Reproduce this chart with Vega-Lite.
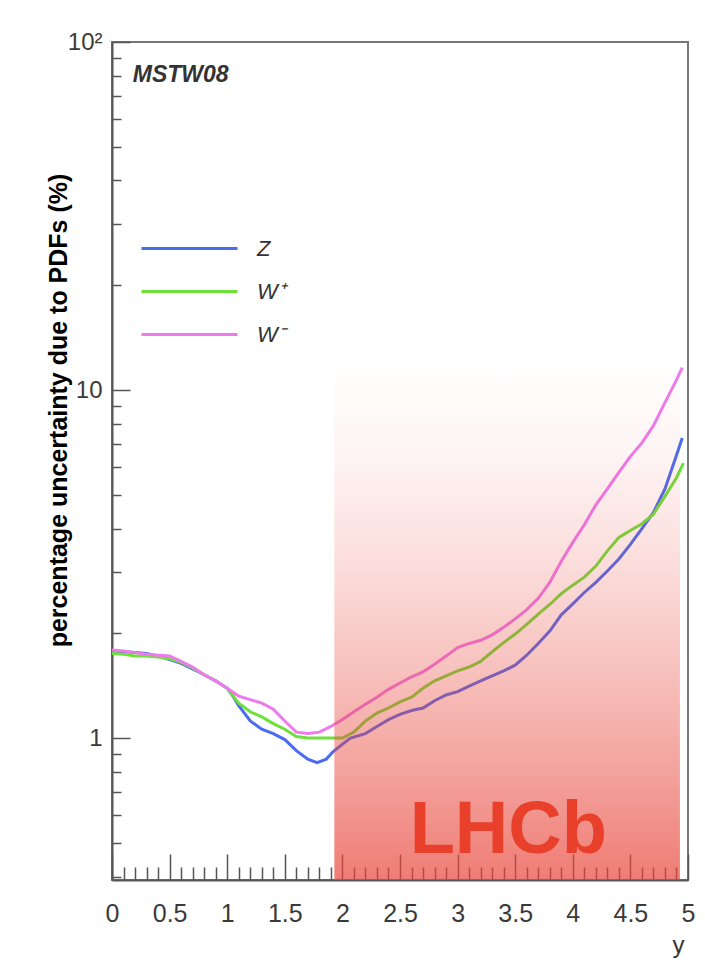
{
  "$schema": "https://vega.github.io/schema/vega-lite/v6.json",
  "width": 576,
  "height": 838,
  "autosize": "none",
  "padding": {"left": 112, "top": 42, "right": 17, "bottom": 93},
  "background": "white",
  "config": {
    "font": "Liberation Sans",
    "view": {"stroke": "#777", "strokeWidth": 2},
    "axis": {"grid": false, "labelFont": "Liberation Sans", "titleFont": "Liberation Sans", "labelColor": "#3a3a3a", "tickColor": "#555", "domainColor": "#555", "domainWidth": 2, "tickWidth": 1.5}
  },
  "datasets": {
    "curves": [
      {"series": "Z", "rap": 0.0, "unc": 1.78}, {"series": "Z", "rap": 0.1, "unc": 1.77}, {"series": "Z", "rap": 0.2, "unc": 1.76}, {"series": "Z", "rap": 0.3, "unc": 1.75}, {"series": "Z", "rap": 0.4, "unc": 1.72}, {"series": "Z", "rap": 0.5, "unc": 1.68}, {"series": "Z", "rap": 0.6, "unc": 1.64}, {"series": "Z", "rap": 0.7, "unc": 1.58}, {"series": "Z", "rap": 0.8, "unc": 1.52}, {"series": "Z", "rap": 0.9, "unc": 1.46}, {"series": "Z", "rap": 1.0, "unc": 1.39}, {"series": "Z", "rap": 1.05, "unc": 1.32}, {"series": "Z", "rap": 1.1, "unc": 1.24}, {"series": "Z", "rap": 1.2, "unc": 1.12}, {"series": "Z", "rap": 1.3, "unc": 1.06}, {"series": "Z", "rap": 1.4, "unc": 1.03}, {"series": "Z", "rap": 1.5, "unc": 0.99}, {"series": "Z", "rap": 1.6, "unc": 0.92}, {"series": "Z", "rap": 1.7, "unc": 0.87}, {"series": "Z", "rap": 1.78, "unc": 0.85}, {"series": "Z", "rap": 1.86, "unc": 0.87}, {"series": "Z", "rap": 1.92, "unc": 0.915}, {"series": "Z", "rap": 2.0, "unc": 0.96}, {"series": "Z", "rap": 2.07, "unc": 1.0}, {"series": "Z", "rap": 2.2, "unc": 1.03}, {"series": "Z", "rap": 2.3, "unc": 1.08}, {"series": "Z", "rap": 2.4, "unc": 1.13}, {"series": "Z", "rap": 2.5, "unc": 1.17}, {"series": "Z", "rap": 2.6, "unc": 1.2}, {"series": "Z", "rap": 2.7, "unc": 1.22}, {"series": "Z", "rap": 2.8, "unc": 1.28}, {"series": "Z", "rap": 2.9, "unc": 1.33}, {"series": "Z", "rap": 3.0, "unc": 1.36}, {"series": "Z", "rap": 3.1, "unc": 1.41}, {"series": "Z", "rap": 3.2, "unc": 1.46}, {"series": "Z", "rap": 3.3, "unc": 1.51}, {"series": "Z", "rap": 3.4, "unc": 1.56}, {"series": "Z", "rap": 3.5, "unc": 1.62}, {"series": "Z", "rap": 3.6, "unc": 1.73}, {"series": "Z", "rap": 3.7, "unc": 1.87}, {"series": "Z", "rap": 3.8, "unc": 2.03}, {"series": "Z", "rap": 3.9, "unc": 2.26}, {"series": "Z", "rap": 4.0, "unc": 2.43}, {"series": "Z", "rap": 4.1, "unc": 2.62}, {"series": "Z", "rap": 4.2, "unc": 2.8}, {"series": "Z", "rap": 4.3, "unc": 3.02}, {"series": "Z", "rap": 4.4, "unc": 3.27}, {"series": "Z", "rap": 4.5, "unc": 3.6}, {"series": "Z", "rap": 4.6, "unc": 4.0}, {"series": "Z", "rap": 4.7, "unc": 4.45}, {"series": "Z", "rap": 4.8, "unc": 5.2}, {"series": "Z", "rap": 4.9, "unc": 6.5}, {"series": "Z", "rap": 4.95, "unc": 7.28},
      {"series": "W⁺", "rap": 0.0, "unc": 1.75}, {"series": "W⁺", "rap": 0.1, "unc": 1.74}, {"series": "W⁺", "rap": 0.2, "unc": 1.72}, {"series": "W⁺", "rap": 0.3, "unc": 1.72}, {"series": "W⁺", "rap": 0.4, "unc": 1.71}, {"series": "W⁺", "rap": 0.5, "unc": 1.69}, {"series": "W⁺", "rap": 0.6, "unc": 1.65}, {"series": "W⁺", "rap": 0.7, "unc": 1.59}, {"series": "W⁺", "rap": 0.8, "unc": 1.52}, {"series": "W⁺", "rap": 0.9, "unc": 1.46}, {"series": "W⁺", "rap": 1.0, "unc": 1.39}, {"series": "W⁺", "rap": 1.1, "unc": 1.26}, {"series": "W⁺", "rap": 1.2, "unc": 1.19}, {"series": "W⁺", "rap": 1.3, "unc": 1.15}, {"series": "W⁺", "rap": 1.4, "unc": 1.1}, {"series": "W⁺", "rap": 1.5, "unc": 1.06}, {"series": "W⁺", "rap": 1.6, "unc": 1.01}, {"series": "W⁺", "rap": 1.7, "unc": 1.0}, {"series": "W⁺", "rap": 1.8, "unc": 1.0}, {"series": "W⁺", "rap": 1.9, "unc": 1.0}, {"series": "W⁺", "rap": 2.0, "unc": 1.0}, {"series": "W⁺", "rap": 2.1, "unc": 1.04}, {"series": "W⁺", "rap": 2.2, "unc": 1.12}, {"series": "W⁺", "rap": 2.3, "unc": 1.18}, {"series": "W⁺", "rap": 2.4, "unc": 1.22}, {"series": "W⁺", "rap": 2.5, "unc": 1.27}, {"series": "W⁺", "rap": 2.6, "unc": 1.31}, {"series": "W⁺", "rap": 2.7, "unc": 1.39}, {"series": "W⁺", "rap": 2.8, "unc": 1.46}, {"series": "W⁺", "rap": 2.9, "unc": 1.51}, {"series": "W⁺", "rap": 3.0, "unc": 1.56}, {"series": "W⁺", "rap": 3.1, "unc": 1.6}, {"series": "W⁺", "rap": 3.2, "unc": 1.66}, {"series": "W⁺", "rap": 3.3, "unc": 1.77}, {"series": "W⁺", "rap": 3.4, "unc": 1.88}, {"series": "W⁺", "rap": 3.5, "unc": 1.99}, {"series": "W⁺", "rap": 3.6, "unc": 2.12}, {"series": "W⁺", "rap": 3.7, "unc": 2.27}, {"series": "W⁺", "rap": 3.8, "unc": 2.42}, {"series": "W⁺", "rap": 3.9, "unc": 2.6}, {"series": "W⁺", "rap": 4.0, "unc": 2.75}, {"series": "W⁺", "rap": 4.1, "unc": 2.9}, {"series": "W⁺", "rap": 4.2, "unc": 3.12}, {"series": "W⁺", "rap": 4.3, "unc": 3.45}, {"series": "W⁺", "rap": 4.4, "unc": 3.77}, {"series": "W⁺", "rap": 4.5, "unc": 3.95}, {"series": "W⁺", "rap": 4.6, "unc": 4.13}, {"series": "W⁺", "rap": 4.7, "unc": 4.4}, {"series": "W⁺", "rap": 4.8, "unc": 4.95}, {"series": "W⁺", "rap": 4.9, "unc": 5.6}, {"series": "W⁺", "rap": 4.96, "unc": 6.17},
      {"series": "W⁻", "rap": 0.0, "unc": 1.79}, {"series": "W⁻", "rap": 0.1, "unc": 1.78}, {"series": "W⁻", "rap": 0.2, "unc": 1.76}, {"series": "W⁻", "rap": 0.3, "unc": 1.74}, {"series": "W⁻", "rap": 0.4, "unc": 1.73}, {"series": "W⁻", "rap": 0.5, "unc": 1.72}, {"series": "W⁻", "rap": 0.6, "unc": 1.66}, {"series": "W⁻", "rap": 0.7, "unc": 1.6}, {"series": "W⁻", "rap": 0.8, "unc": 1.52}, {"series": "W⁻", "rap": 0.9, "unc": 1.46}, {"series": "W⁻", "rap": 1.0, "unc": 1.39}, {"series": "W⁻", "rap": 1.1, "unc": 1.32}, {"series": "W⁻", "rap": 1.2, "unc": 1.29}, {"series": "W⁻", "rap": 1.3, "unc": 1.26}, {"series": "W⁻", "rap": 1.4, "unc": 1.21}, {"series": "W⁻", "rap": 1.5, "unc": 1.12}, {"series": "W⁻", "rap": 1.6, "unc": 1.04}, {"series": "W⁻", "rap": 1.7, "unc": 1.03}, {"series": "W⁻", "rap": 1.8, "unc": 1.04}, {"series": "W⁻", "rap": 1.9, "unc": 1.08}, {"series": "W⁻", "rap": 2.0, "unc": 1.13}, {"series": "W⁻", "rap": 2.1, "unc": 1.19}, {"series": "W⁻", "rap": 2.2, "unc": 1.25}, {"series": "W⁻", "rap": 2.3, "unc": 1.31}, {"series": "W⁻", "rap": 2.4, "unc": 1.38}, {"series": "W⁻", "rap": 2.5, "unc": 1.44}, {"series": "W⁻", "rap": 2.6, "unc": 1.5}, {"series": "W⁻", "rap": 2.7, "unc": 1.55}, {"series": "W⁻", "rap": 2.8, "unc": 1.63}, {"series": "W⁻", "rap": 2.9, "unc": 1.72}, {"series": "W⁻", "rap": 3.0, "unc": 1.82}, {"series": "W⁻", "rap": 3.1, "unc": 1.87}, {"series": "W⁻", "rap": 3.2, "unc": 1.91}, {"series": "W⁻", "rap": 3.3, "unc": 1.98}, {"series": "W⁻", "rap": 3.4, "unc": 2.08}, {"series": "W⁻", "rap": 3.5, "unc": 2.2}, {"series": "W⁻", "rap": 3.6, "unc": 2.34}, {"series": "W⁻", "rap": 3.7, "unc": 2.52}, {"series": "W⁻", "rap": 3.8, "unc": 2.8}, {"series": "W⁻", "rap": 3.9, "unc": 3.22}, {"series": "W⁻", "rap": 4.0, "unc": 3.65}, {"series": "W⁻", "rap": 4.1, "unc": 4.1}, {"series": "W⁻", "rap": 4.2, "unc": 4.68}, {"series": "W⁻", "rap": 4.3, "unc": 5.2}, {"series": "W⁻", "rap": 4.4, "unc": 5.8}, {"series": "W⁻", "rap": 4.5, "unc": 6.45}, {"series": "W⁻", "rap": 4.6, "unc": 7.05}, {"series": "W⁻", "rap": 4.7, "unc": 7.9}, {"series": "W⁻", "rap": 4.8, "unc": 9.2}, {"series": "W⁻", "rap": 4.9, "unc": 10.7}, {"series": "W⁻", "rap": 4.95, "unc": 11.6}
    ],
    "region": [{"start": 1.93, "end": 4.93, "name": "LHCb"}]
  },
  "resolve": {"axis": {"x": "independent", "y": "independent"}},
  "layer": [
    {
      "data": {"name": "curves"},
      "mark": {"type": "line", "strokeWidth": 3, "interpolate": "linear"},
      "encoding": {
        "x": {"field": "rap", "type": "quantitative", "scale": {"domain": [0, 5], "nice": false, "zero": false},
          "axis": {"orient": "bottom", "values": [0, 0.5, 1, 1.5, 2, 2.5, 3, 3.5, 4, 4.5, 5], "tickSize": -26, "labelPadding": 47, "labelFontSize": 25, "labelFlush": false, "labelExpr": "format(datum.value, '.2~f')",
            "title": "y", "titleFontSize": 24, "titleFontWeight": "normal", "titleColor": "#333", "titleAnchor": "end", "titleAlign": "right", "titleX": 572, "titleY": 72, "titleBaseline": "alphabetic"}},
        "y": {"field": "unc", "type": "quantitative", "scale": {"type": "log", "domain": [0.391, 100], "nice": false},
          "axis": {"orient": "left", "values": [1, 10, 100], "tickSize": -18, "labelPadding": 28, "labelFontSize": 24, "labelExpr": "datum.value == 100 ? '10²' : datum.value == 10 ? '10' : '1'",
            "title": "percentage uncertainty due to PDFs (%)", "titleFontSize": 25, "titleFontWeight": "bold", "titleColor": "#000", "titleX": -46, "titleY": 368, "titleAlign": "center", "titleBaseline": "alphabetic", "titleAngle": 270}},
        "color": {"field": "series", "type": "nominal",
          "scale": {"domain": ["Z", "W⁺", "W⁻"], "range": ["#4a6cf0", "#6ee03a", "#ee7aee"]},
          "legend": {"title": null, "orient": "none", "legendX": 28, "legendY": 185, "symbolType": "stroke", "symbolSize": 9216, "symbolStrokeWidth": 3, "labelFontSize": 22, "labelFontStyle": "italic", "labelColor": "#333", "labelOffset": 18, "clipHeight": 43, "rowPadding": 0, "padding": 0}}
      }
    },
    {
      "data": {"name": "region"},
      "mark": {"type": "rect", "stroke": null,
        "fill": {"gradient": "linear", "x1": 0, "y1": 0, "x2": 0, "y2": 1,
          "stops": [
            {"offset": 0, "color": "rgba(232,69,58,0)"},
            {"offset": 0.37, "color": "rgba(232,69,58,0)"},
            {"offset": 0.495, "color": "rgba(232,69,58,0.06)"},
            {"offset": 0.621, "color": "rgba(232,69,58,0.18)"},
            {"offset": 0.747, "color": "rgba(232,69,58,0.33)"},
            {"offset": 0.874, "color": "rgba(232,69,58,0.5)"},
            {"offset": 1, "color": "rgba(232,69,58,0.7)"}
          ]}},
      "encoding": {
        "x": {"field": "start", "type": "quantitative",
          "axis": {"orient": "bottom", "values": [0.1, 0.2, 0.3, 0.4, 0.6, 0.7, 0.8, 0.9, 1.1, 1.2, 1.3, 1.4, 1.6, 1.7, 1.8, 1.9, 2.1, 2.2, 2.3, 2.4, 2.6, 2.7, 2.8, 2.9, 3.1, 3.2, 3.3, 3.4, 3.6, 3.7, 3.8, 3.9, 4.1, 4.2, 4.3, 4.4, 4.6, 4.7, 4.8, 4.9], "tickSize": -13, "labels": false, "domain": false, "title": null}},
        "x2": {"field": "end"}
      }
    },
    {
      "data": {"name": "region"},
      "mark": {"type": "text", "text": "LHCb", "font": "Liberation Sans", "fontSize": 74, "fontWeight": "bold", "color": "#e8402a", "align": "center", "baseline": "alphabetic"},
      "encoding": {
        "x": {"datum": 3.44, "type": "quantitative", "axis": null},
        "y": {"datum": 0.467, "type": "quantitative",
          "axis": {"orient": "left", "values": [0.4, 0.5, 0.6, 0.7, 0.8, 0.9, 2, 3, 4, 5, 6, 7, 8, 9, 20, 30, 40, 50, 60, 70, 80, 90], "tickSize": -9, "labels": false, "domain": false, "title": null}}
      }
    },
    {
      "data": {"values": [{"label": "MSTW08"}]},
      "mark": {"type": "text", "font": "Liberation Sans", "fontSize": 23, "fontStyle": "italic", "fontWeight": "bold", "color": "#333", "align": "left", "baseline": "alphabetic"},
      "encoding": {
        "text": {"field": "label"},
        "x": {"datum": 0.18, "type": "quantitative", "axis": null},
        "y": {"datum": 77, "type": "quantitative", "axis": null}
      }
    }
  ]
}
